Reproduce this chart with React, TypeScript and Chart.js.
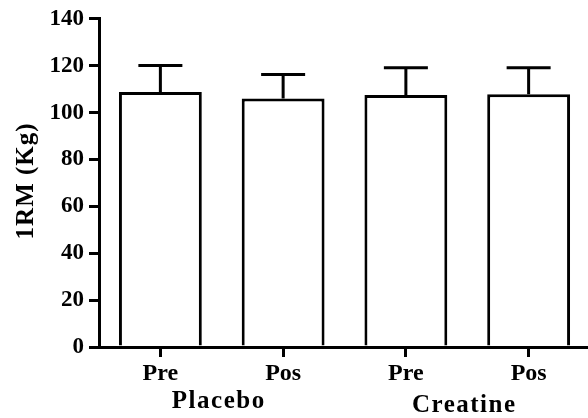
import React, { useEffect, useRef } from "react";
import { Chart, registerables } from "chart.js";

Chart.register(...registerables);

const categories = ["Pre", "Pos", "Pre", "Pos"];
const groups = ["Placebo", "Creatine"];
const groupMembers = [[0, 1], [2, 3]];
const means = [108.8, 106.0, 107.5, 107.8];
const errors = [11.3, 10.2, 11.6, 11.3];
const yTitle = "1RM (Kg)";
const yMin = 0;
const yMax = 140;
const yStep = 20;

const FONT = "'Liberation Serif', 'Times New Roman', serif";

const errorBarPlugin = {
  id: "errorBars",
  afterDatasetsDraw(chart: any) {
    const ctx = chart.ctx;
    const meta = chart.getDatasetMeta(0);
    const ys = chart.scales.y;
    ctx.save();
    ctx.strokeStyle = "#000";
    ctx.lineWidth = 3;
    ctx.lineCap = "butt";
    meta.data.forEach((bar: any, i: number) => {
      const x = bar.x;
      const yBase = ys.getPixelForValue(means[i]);
      const yTop = ys.getPixelForValue(means[i] + errors[i]);
      ctx.beginPath();
      ctx.moveTo(x, yBase);
      ctx.lineTo(x, yTop);
      ctx.moveTo(x - 22, yTop);
      ctx.lineTo(x + 22, yTop);
      ctx.stroke();
    });
    ctx.restore();
  },
};

const labelsPlugin = {
  id: "extraLabels",
  afterDraw(chart: any) {
    const ctx = chart.ctx;
    const xs = chart.scales.x;
    const area = chart.chartArea;
    ctx.save();
    ctx.fillStyle = "#000";
    ctx.font = `bold 25px ${FONT}`;
    (ctx as any).letterSpacing = "1.5px";
    ctx.textAlign = "center";
    ctx.textBaseline = "alphabetic";
    const offsets = [61, 65];
    groups.forEach((g, gi) => {
      const idx = groupMembers[gi];
      const cx = (xs.getPixelForValue(idx[0]) + xs.getPixelForValue(idx[idx.length - 1])) / 2 - 3;
      ctx.fillText(g, cx, area.bottom + offsets[gi]);
    });
    // y title
    ctx.translate(33, (area.top + area.bottom) / 2 - 2);
    ctx.rotate(-Math.PI / 2);
    (ctx as any).letterSpacing = "1px";
    ctx.fillText(yTitle, 0, 0);
    ctx.restore();
  },
};

export default function App() {
  const ref = useRef<HTMLCanvasElement | null>(null);
  useEffect(() => {
    if (!ref.current) return;
    const chart = new Chart(ref.current, {
      type: "bar",
      data: {
        labels: categories,
        datasets: [
          {
            data: means,
            backgroundColor: "#fff",
            borderColor: "#000",
            borderWidth: 3,
            categoryPercentage: 1,
            barPercentage: 0.675,
          },
        ],
      },
      options: {
        animation: false,
        responsive: false,
        maintainAspectRatio: false,
        layout: { padding: { left: 0, right: 10, top: 6, bottom: 0 } },
        plugins: {
          legend: { display: false },
          tooltip: { enabled: false },
          title: { display: false },
        },
        scales: {
          x: {
            afterFit: (s: any) => {
              s.height = 71;
            },
            grid: {
              display: true,
              drawOnChartArea: false,
              drawTicks: true,
              tickLength: 10,
              lineWidth: 3,
              color: "#000",
              offset: false,
            },
            border: { display: true, color: "#000", width: 3 },
            ticks: {
              color: "#000",
              font: { family: FONT, size: 24, weight: "bold" },
              padding: 2,
              maxRotation: 0,
            },
          },
          y: {
            min: yMin,
            max: yMax,
            afterFit: (s: any) => {
              s.width = 99;
            },
            grid: {
              display: true,
              drawOnChartArea: false,
              drawTicks: true,
              tickLength: 10,
              lineWidth: 3,
              color: "#000",
            },
            border: { display: true, color: "#000", width: 3 },
            ticks: {
              stepSize: yStep,
              color: "#000",
              font: { family: FONT, size: 23, weight: "bold" },
              padding: 5,
            },
          },
        },
      },
      plugins: [errorBarPlugin, labelsPlugin],
    });
    return () => chart.destroy();
  }, []);
  return (
    <div style={{ position: "fixed", left: 0, top: 0, width: 588, height: 418, overflow: "hidden", background: "#fff" }}>
      <canvas ref={ref} width={600} height={418} style={{ display: "block", width: 600, height: 418 }} />
    </div>
  );
}
